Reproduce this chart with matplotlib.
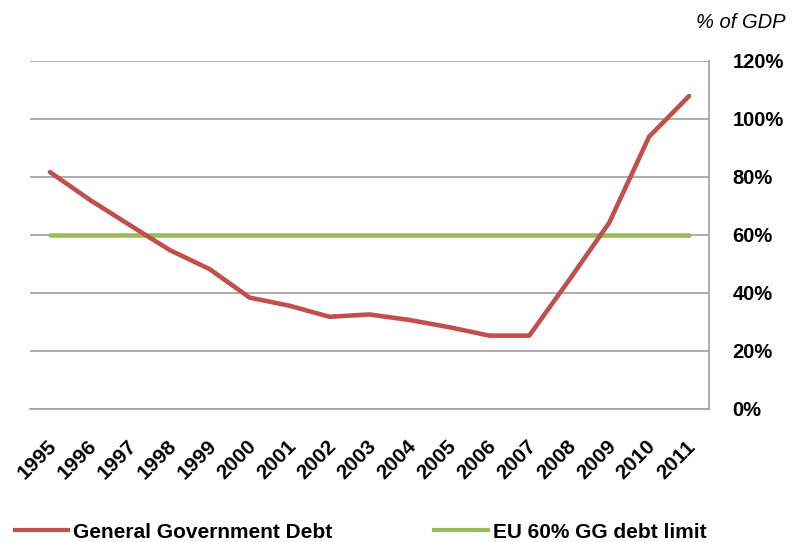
import matplotlib
matplotlib.use("Agg")
import matplotlib.pyplot as plt
from matplotlib.lines import Line2D
import matplotlib.transforms as mtransforms

plt.rcParams['font.family'] = ['Liberation Sans', 'DejaVu Sans']

years = ["1995", "1996", "1997", "1998", "1999", "2000", "2001", "2002", "2003",
         "2004", "2005", "2006", "2007", "2008", "2009", "2010", "2011"]
gg_debt = [81.7, 72.1, 63.4, 54.8, 48.2, 38.4, 35.6, 31.8, 32.6,
           30.7, 28.2, 25.3, 25.3, 44.5, 64.2, 93.9, 107.9]
eu_limit = [60] * len(years)
y_ticks = [0, 20, 40, 60, 80, 100, 120]
y_tick_labels = ["0%", "20%", "40%", "60%", "80%", "100%", "120%"]

RED = "#C0504D"
GREEN = "#9BBB59"
GRID = "#A0A0A0"

fig = plt.figure(figsize=(7.92, 5.42), dpi=100)
ax = fig.add_axes([30/792, (542-409)/542, (709-30)/792, (409-61)/542])

x = list(range(len(years)))
ax.plot(x, eu_limit, color=GREEN, lw=3.3, solid_capstyle='round', zorder=3)
ax.plot(x, gg_debt, color=RED, lw=3.3, solid_capstyle='round', solid_joinstyle='round', zorder=4)

ax.set_xlim(-0.5, len(years) - 0.5)
ax.set_ylim(0, 120)
ax.set_yticks(y_ticks)
ax.set_yticklabels(y_tick_labels)
ax.yaxis.tick_right()
ax.tick_params(axis='y', length=0, pad=17, labelsize=14.5)
for lab in ax.get_yticklabels():
    lab.set_fontweight('bold')
    lab.set_horizontalalignment('left')

ax.set_xticks(x)
ax.set_xticklabels(years, rotation=45, ha='right', rotation_mode='anchor',
                   fontsize=15, fontweight='bold')
ax.tick_params(axis='x', length=0, pad=20)
offset = mtransforms.ScaledTranslation(-3/100, 0, fig.dpi_scale_trans)
for lab in ax.get_xticklabels():
    lab.set_transform(lab.get_transform() + offset)

ax.grid(axis='y', color=GRID, lw=1.2)
ax.set_axisbelow(True)
for s in ['left', 'top']:
    ax.spines[s].set_visible(False)
for s in ['right', 'bottom']:
    ax.spines[s].set_color(GRID)
    ax.spines[s].set_linewidth(1.2)

fig.text(785/792, 1 - 22/542, "% of GDP", ha='right', va='center',
         fontsize=14.5, style='italic')

handles = [Line2D([], [], color=RED, lw=3), Line2D([], [], color=GREEN, lw=3)]
fig.legend(handles, ["General Government Debt", "EU 60% GG debt limit"],
           loc='center left', bbox_to_anchor=(15/792, 10/542), ncol=2,
           frameon=False, handlelength=2.55, handletextpad=0.24,
           columnspacing=4.9, borderaxespad=0, borderpad=0,
           prop={'size': 15, 'weight': 'bold'})

fig.savefig("out.png", dpi=100)
